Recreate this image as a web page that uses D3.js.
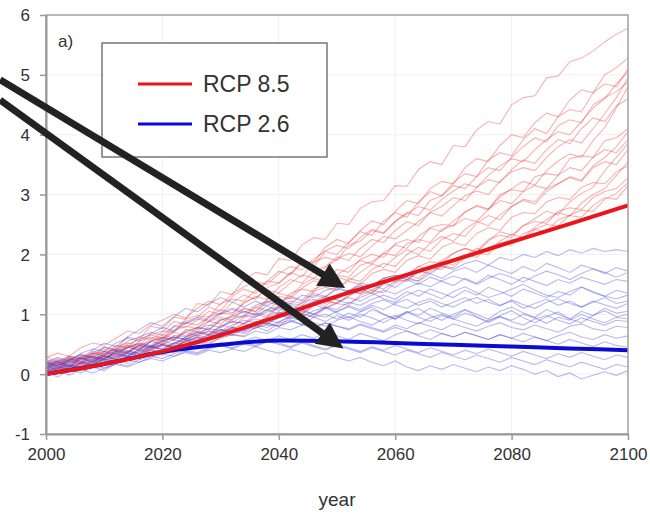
<!DOCTYPE html>
<html lang="en">
<head>
<meta charset="UTF-8">
<title>RCP 8.5 vs RCP 2.6</title>
<script src="https://d3js.org/d3.v7.min.js"></script>
<style>
    body { margin: 0; padding: 0; background: #fff; font-family: Arial, "Liberation Sans", sans-serif; }
    .tick text { font-size: 17px; fill: #333; }
</style>
</head>
<body>
<svg id="chart" width="650" height="516"></svg>
<script>
// thick lines, one value per decade
const meanYears = [2000, 2010, 2020, 2030, 2040, 2050, 2060, 2070, 2080, 2090, 2100];
const rcp85Mean = [0, 0.17, 0.38, 0.65, 0.97, 1.30, 1.60, 1.90, 2.21, 2.51, 2.82];
const rcp26Mean = [0, 0.17, 0.37, 0.49, 0.56, 0.55, 0.52, 0.49, 0.46, 0.43, 0.40];

// thin ensemble lines, one value every 2 years from 2000 to 2100
const memberYears = d3.range(2000, 2101, 2);
const rcp85Members = [
    [.15,.22,.12,.31,.27,.45,.41,.62,.58,.80,.76,.95,.92,1.18,1.15,1.38,1.33,1.58,1.70,1.66,1.93,1.90,2.16,2.28,2.25,2.52,2.50,2.77,2.88,2.90,3.15,3.14,3.42,3.55,3.50,3.82,3.80,4.08,4.22,4.18,4.50,4.62,4.65,4.95,4.98,5.22,5.28,5.40,5.55,5.68,5.78],
    [.12,.18,.10,.28,.35,.30,.48,.44,.62,.58,.70,.88,.84,.95,1.12,1.05,1.30,1.42,1.35,1.55,1.72,1.66,1.90,1.86,2.12,2.25,2.18,2.40,2.56,2.50,2.72,2.90,2.85,3.10,3.22,3.18,3.45,3.60,3.55,3.82,4.00,3.95,4.20,4.36,4.30,4.58,4.75,4.70,5.00,5.12,5.28],
    [.20,.14,.25,.22,.38,.33,.45,.52,.48,.66,.72,.70,.92,.98,.95,1.18,1.25,1.22,1.40,1.56,1.52,1.68,1.85,1.80,2.05,2.00,2.20,2.38,2.32,2.55,2.70,2.62,2.88,3.05,2.98,3.20,3.35,3.30,3.58,3.70,3.65,3.92,4.10,4.02,4.30,4.42,4.38,4.70,4.85,4.80,5.10],
    [.08,.16,.12,.26,.22,.38,.40,.35,.55,.62,.58,.80,.78,.90,1.05,1.00,1.20,1.32,1.25,1.45,1.52,1.70,1.62,1.88,1.95,1.90,2.15,2.22,2.40,2.35,2.55,2.70,2.65,2.90,2.98,3.15,3.10,3.30,3.45,3.40,3.62,3.80,3.95,3.88,4.15,4.25,4.20,4.50,4.62,4.72,4.88],
    [.25,.18,.30,.24,.35,.30,.42,.48,.44,.60,.55,.72,.80,.76,.95,1.02,1.00,1.18,1.30,1.25,1.45,1.58,1.52,1.72,1.80,1.96,1.90,2.10,2.25,2.20,2.40,2.55,2.48,2.70,2.80,2.95,2.90,3.12,3.25,3.20,3.42,3.58,3.52,3.75,3.92,3.85,4.10,4.28,4.22,4.48,4.60],
    [.10,.22,.15,.28,.20,.35,.32,.45,.40,.55,.62,.58,.75,.70,.88,.95,.90,1.10,1.05,1.25,1.35,1.30,1.50,1.60,1.55,1.75,1.70,1.92,2.00,1.95,2.18,2.25,2.20,2.45,2.50,2.48,2.72,2.80,2.75,3.00,3.08,3.05,3.30,3.35,3.32,3.60,3.65,3.62,3.90,3.95,4.10],
    [.30,.20,.28,.18,.32,.38,.30,.45,.52,.48,.62,.58,.70,.78,.75,.90,.98,.95,1.12,1.20,1.15,1.35,1.42,1.38,1.60,1.65,1.62,1.82,1.88,2.02,1.98,2.18,2.25,2.20,2.42,2.48,2.60,2.55,2.75,2.90,2.85,3.05,3.15,3.10,3.32,3.45,3.40,3.62,3.75,3.70,3.92],
    [.05,.12,.08,.20,.15,.28,.35,.30,.42,.38,.52,.48,.62,.70,.65,.82,.78,.95,1.02,.98,1.15,1.22,1.18,1.38,1.45,1.40,1.60,1.55,1.75,1.85,1.80,2.00,2.12,2.05,2.25,2.35,2.30,2.52,2.65,2.58,2.80,2.92,2.88,3.10,3.18,3.28,3.22,3.45,3.55,3.50,3.75],
    [.18,.26,.20,.32,.28,.25,.40,.36,.48,.44,.55,.62,.58,.72,.68,.80,.88,.85,1.00,.95,1.12,1.18,1.15,1.32,1.28,1.45,1.55,1.50,1.68,1.75,1.70,1.90,1.98,1.92,2.12,2.20,2.15,2.35,2.45,2.40,2.62,2.70,2.68,2.88,2.95,2.92,3.12,3.20,3.18,3.38,3.48],
    [.12,.08,.22,.15,.25,.32,.28,.38,.35,.45,.50,.46,.58,.65,.60,.75,.72,.85,.92,.88,1.02,1.08,1.05,1.20,1.28,1.25,1.40,1.48,1.45,1.60,1.65,1.62,1.80,1.88,1.85,2.02,2.10,2.05,2.25,2.32,2.28,2.48,2.55,2.52,2.72,2.78,2.75,2.95,3.05,3.10,3.28],
    [.22,.15,.28,.22,.18,.30,.26,.38,.34,.42,.48,.44,.55,.60,.56,.70,.78,.74,.88,.84,.98,1.05,1.00,1.15,1.22,1.18,1.32,1.38,1.35,1.52,1.58,1.55,1.72,1.78,1.75,1.92,2.00,1.95,2.12,2.20,2.15,2.35,2.42,2.38,2.58,2.65,2.62,2.82,2.95,2.92,3.15],
    [.02,.10,.06,.15,.12,.22,.18,.28,.25,.35,.40,.36,.48,.52,.50,.62,.66,.64,.78,.82,.80,.95,1.00,.96,1.10,1.18,1.15,1.32,1.40,1.36,1.52,1.58,1.56,1.72,1.80,1.78,1.95,2.02,2.00,2.18,2.25,2.24,2.42,2.50,2.48,2.66,2.74,2.72,2.92,3.02,3.20],
    [.10,.18,.26,.20,.33,.42,.38,.50,.58,.66,.60,.74,.86,.82,.96,1.08,1.02,1.20,1.28,1.40,1.36,1.52,1.66,1.60,1.78,1.92,2.02,1.96,2.14,2.30,2.26,2.40,2.55,2.70,2.64,2.82,2.98,3.06,3.00,3.22,3.38,3.45,3.40,3.62,3.80,3.92,3.86,4.10,4.35,4.62,4.95],
    [.18,.12,.24,.34,.28,.22,.36,.48,.42,.54,.66,.60,.70,.64,.80,.92,.86,.98,1.12,1.06,1.22,1.30,1.24,1.42,1.50,1.62,1.56,1.70,1.84,1.78,1.95,2.08,2.00,2.18,2.30,2.22,2.42,2.55,2.48,2.66,2.80,2.90,2.84,3.05,3.18,3.30,3.24,3.48,3.62,3.80,4.05],
    [.00,.08,.15,.10,.20,.30,.24,.18,.30,.42,.50,.44,.56,.52,.64,.74,.70,.80,.76,.90,1.02,.96,1.10,1.20,1.14,1.28,1.40,1.34,1.48,1.60,1.54,1.66,1.80,1.74,1.90,2.02,2.10,2.04,2.22,2.38,2.32,2.48,2.60,2.72,2.66,2.88,3.02,3.12,3.40,3.62,3.85],
    [.28,.35,.30,.44,.52,.48,.60,.72,.68,.82,.90,1.00,.94,1.10,1.22,1.16,1.34,1.46,1.55,1.50,1.68,1.80,1.74,1.92,2.06,2.15,2.10,2.28,2.42,2.36,2.55,2.68,2.80,2.74,2.92,3.06,3.18,3.12,3.32,3.48,3.60,3.55,3.75,3.92,4.05,4.00,4.22,4.45,4.60,4.85,5.05],
    [.14,.06,.18,.26,.20,.30,.24,.36,.46,.40,.50,.58,.52,.62,.72,.66,.76,.84,.80,.92,1.00,1.08,1.02,1.14,1.24,1.18,1.30,1.42,1.36,1.50,1.58,1.66,1.60,1.76,1.88,1.82,1.98,2.10,2.04,2.22,2.34,2.28,2.46,2.58,2.70,2.64,2.86,3.00,3.10,3.32,3.55],
    [.05,.14,.22,.16,.28,.24,.36,.44,.52,.46,.60,.70,.64,.78,.88,.84,.98,1.10,1.04,1.20,1.30,1.26,1.44,1.56,1.50,1.66,1.78,1.90,1.84,2.02,2.16,2.10,2.30,2.44,2.38,2.56,2.70,2.82,2.76,2.96,3.10,3.22,3.16,3.40,3.56,3.68,3.62,3.90,4.12,4.45,4.80]
];
const rcp26Members = [
    [.10,.18,.12,.25,.30,.26,.38,.45,.40,.55,.60,.56,.72,.78,.74,.90,.95,1.05,1.00,1.15,1.22,1.18,1.32,1.28,1.40,1.45,1.38,1.52,1.48,1.60,1.65,1.58,1.72,1.68,1.80,1.75,1.85,1.90,1.82,1.95,1.90,2.00,1.95,2.05,1.98,2.08,2.02,2.10,2.05,2.08,2.05],
    [.15,.08,.22,.18,.30,.25,.38,.35,.48,.55,.50,.65,.62,.75,.82,.78,.92,.98,.95,1.08,1.12,1.05,1.20,1.25,1.18,1.32,1.40,1.35,1.48,1.42,1.55,1.62,1.55,1.68,1.60,1.72,1.78,1.70,1.82,1.75,1.68,1.80,1.72,1.85,1.78,1.70,1.82,1.76,1.68,1.78,1.72],
    [.20,.28,.22,.35,.42,.38,.52,.60,.55,.68,.78,.72,.85,.92,.88,1.00,1.08,1.02,1.15,1.22,1.18,1.28,1.22,1.35,1.30,1.42,1.38,1.48,1.40,1.52,1.45,1.58,1.50,1.62,1.55,1.48,1.60,1.52,1.65,1.58,1.50,1.62,1.55,1.48,1.58,1.52,1.62,1.56,1.50,1.58,1.55],
    [.05,.12,.08,.18,.15,.25,.22,.32,.40,.35,.48,.45,.55,.62,.58,.70,.78,.72,.85,.90,.86,.98,1.05,1.00,1.12,1.08,1.20,1.15,1.25,1.32,1.25,1.38,1.30,1.42,1.35,1.28,1.40,1.32,1.45,1.38,1.30,1.42,1.35,1.28,1.38,1.32,1.45,1.38,1.30,1.40,1.35],
    [.12,.20,.15,.10,.22,.30,.25,.35,.32,.42,.50,.45,.55,.62,.58,.68,.75,.70,.82,.78,.88,.95,.90,1.00,.95,1.05,1.12,1.05,1.15,1.08,1.18,1.25,1.15,1.22,1.12,1.20,1.28,1.18,1.25,1.15,1.22,1.10,1.18,1.25,1.15,1.22,1.12,1.20,1.28,1.18,1.22],
    [.18,.10,.22,.28,.20,.32,.38,.30,.42,.48,.40,.52,.58,.50,.62,.70,.65,.75,.80,.72,.85,.90,.82,.95,1.00,.92,1.02,.95,1.08,1.00,.92,1.05,.98,1.10,1.02,.95,1.08,1.00,.92,1.05,1.12,1.02,.95,1.08,1.00,.92,1.05,.98,1.10,1.02,1.05],
    [.08,.15,.25,.20,.35,.45,.40,.55,.62,.70,.65,.80,.88,.95,.90,1.02,1.10,1.05,.98,1.08,1.00,.92,1.02,.95,.88,.98,.90,1.00,.94,.86,.96,1.04,.95,.88,.98,.92,1.02,.95,.86,.96,.90,1.00,.94,.85,.95,.90,1.00,.92,.86,.95,.92],
    [.10,.05,.15,.12,.22,.18,.28,.35,.30,.40,.38,.48,.45,.55,.52,.60,.66,.62,.72,.68,.78,.74,.82,.78,.85,.80,.76,.84,.78,.72,.82,.76,.86,.80,.74,.84,.78,.72,.80,.86,.78,.74,.82,.76,.70,.80,.84,.76,.72,.80,.78],
    [.15,.22,.12,.08,.18,.25,.20,.30,.26,.36,.32,.42,.38,.48,.45,.52,.48,.56,.62,.55,.64,.58,.66,.60,.70,.64,.58,.68,.62,.56,.66,.72,.64,.58,.68,.62,.70,.64,.58,.66,.60,.68,.62,.56,.64,.70,.62,.58,.66,.60,.64],
    [.05,-.05,.08,.02,.12,.06,.18,.14,.24,.30,.26,.34,.40,.36,.44,.48,.42,.50,.46,.54,.50,.44,.52,.46,.40,.48,.42,.36,.44,.38,.32,.40,.34,.28,.36,.30,.24,.32,.26,.20,.28,.22,.16,.24,.18,.12,.20,.14,.08,.16,.12],
    [.10,.04,.14,.08,.02,.10,.16,.12,.20,.26,.22,.30,.36,.32,.40,.36,.42,.38,.46,.40,.35,.42,.36,.30,.36,.28,.22,.28,.20,.14,.22,.12,.06,.14,.08,.16,.10,.04,.12,.06,.14,.08,.00,.06,-.04,.02,-.08,-.02,.04,-.02,.06],
    [.20,.12,.25,.32,.28,.38,.34,.44,.50,.46,.56,.62,.58,.66,.72,.68,.78,.74,.82,.86,.80,.88,.84,.78,.86,.80,.74,.82,.76,.70,.78,.72,.66,.74,.68,.62,.70,.64,.58,.66,.60,.54,.62,.56,.50,.58,.52,.46,.54,.48,.45],
    [.02,.10,.18,.12,.24,.20,.30,.40,.34,.46,.56,.50,.62,.70,.66,.78,.88,.84,.96,1.04,1.10,1.02,1.14,1.22,1.30,1.24,1.18,1.28,1.36,1.26,1.20,1.32,1.40,1.34,1.26,1.38,1.46,1.36,1.28,1.34,1.42,1.50,1.40,1.32,1.28,1.38,1.46,1.36,1.30,1.26,1.32],
    [.12,.22,.30,.26,.40,.52,.46,.62,.74,.86,.80,.96,1.10,1.04,1.18,1.28,1.20,1.12,1.22,1.14,1.06,1.16,1.08,1.00,1.10,1.02,.94,1.04,1.12,1.00,.92,1.02,1.10,.98,.90,1.00,1.08,.96,.88,.98,1.06,.94,.86,.96,1.04,.92,.86,.98,1.06,.96,1.00],
    [.08,.02,.12,.20,.16,.26,.34,.30,.38,.46,.42,.52,.48,.58,.66,.62,.72,.68,.78,.84,.80,.88,.94,.86,.80,.90,.96,.88,.82,.92,.98,.90,.84,.94,1.00,.92,.86,.80,.90,.96,.88,.82,.92,.98,.90,.84,.94,.88,.82,.90,.88],
    [.16,.24,.18,.28,.24,.34,.42,.38,.48,.44,.54,.62,.58,.68,.76,.72,.82,.90,.86,.96,1.04,.98,1.08,1.16,1.10,1.20,1.28,1.22,1.32,1.40,1.34,1.44,1.52,1.46,1.56,1.64,1.58,1.50,1.60,1.68,1.62,1.54,1.64,1.72,1.66,1.58,1.68,1.76,1.70,1.62,1.70],
    [.00,.06,-.02,.08,.14,.10,.18,.24,.20,.28,.34,.30,.38,.34,.42,.48,.44,.52,.48,.56,.52,.46,.54,.48,.42,.50,.44,.38,.46,.40,.48,.42,.36,.44,.38,.32,.40,.34,.42,.36,.30,.38,.32,.26,.34,.28,.36,.30,.24,.32,.28],
    [.22,.14,.08,.18,.26,.22,.32,.28,.38,.46,.42,.52,.60,.56,.66,.74,.70,.80,.88,.84,.94,1.00,.96,1.06,1.12,1.04,1.14,1.08,1.18,1.24,1.16,1.10,1.20,1.26,1.18,1.12,1.22,1.28,1.20,1.14,1.24,1.16,1.10,1.20,1.26,1.18,1.12,1.22,1.16,1.10,1.18]
];

const xTicks = [2000, 2020, 2040, 2060, 2080, 2100];
const yTicks = [-1, 0, 1, 2, 3, 4, 5, 6];
const legendLabels = ["RCP 8.5", "RCP 2.6"];

// arrow annotations in data units [fromYear, fromValue, toYear, toValue]
const arrows = [
    [1992.1, 4.92, 2051.4, 1.44],
    [1992.1, 4.58, 2051.1, 0.43]
];

const svg = d3.select("#chart");
const margin = { top: 15, right: 22, bottom: 82, left: 46 };
const W = 650, H = 516;

const x = d3.scaleLinear().domain([2000, 2100]).range([margin.left, W - margin.right]);
const y = d3.scaleLinear().domain([-1, 6]).range([H - margin.bottom, margin.top]);

svg.append("defs").append("clipPath").attr("id", "plot-clip")
    .append("rect")
    .attr("x", x(2000)).attr("y", y(6))
    .attr("width", x(2100) - x(2000)).attr("height", y(-1) - y(6));

// faint grid
const grid = svg.append("g");
grid.selectAll(".vg").data(xTicks.slice(1, -1)).join("line")
    .attr("x1", d => x(d)).attr("x2", d => x(d))
    .attr("y1", y(6)).attr("y2", y(-1))
    .attr("stroke", "#f0f0f0").attr("stroke-width", 1);
grid.selectAll(".hg").data(yTicks.slice(1, -1)).join("line")
    .attr("x1", x(2000)).attr("x2", x(2100))
    .attr("y1", d => y(d)).attr("y2", d => y(d))
    .attr("stroke", "#f0f0f0").attr("stroke-width", 1);

const plot = svg.append("g").attr("clip-path", "url(#plot-clip)");

const memberLine = d3.line()
    .x((d, i) => x(memberYears[i]))
    .y(d => y(d));

plot.selectAll(".red-thin").data(rcp85Members).join("path")
    .attr("fill", "none")
    .attr("stroke", "rgba(238,50,50,0.38)")
    .attr("stroke-width", 1.1)
    .attr("d", memberLine);

plot.selectAll(".blue-thin").data(rcp26Members).join("path")
    .attr("fill", "none")
    .attr("stroke", "rgba(60,60,215,0.36)")
    .attr("stroke-width", 1.1)
    .attr("d", memberLine);

const meanLine = d3.line()
    .x((d, i) => x(meanYears[i]))
    .y(d => y(d))
    .curve(d3.curveMonotoneX);

plot.append("path").datum(rcp26Mean)
    .attr("fill", "none").attr("stroke", "#0a0ad2").attr("stroke-width", 4)
    .attr("d", meanLine);

plot.append("path").datum(rcp85Mean)
    .attr("fill", "none").attr("stroke", "#e8161a").attr("stroke-width", 4)
    .attr("d", meanLine);

// frame
svg.append("rect")
    .attr("x", x(2000)).attr("y", y(6))
    .attr("width", x(2100) - x(2000)).attr("height", y(-1) - y(6))
    .attr("fill", "none").attr("stroke", "#a0a0a0").attr("stroke-width", 1.5);

// axes
const xAxis = svg.append("g")
    .attr("transform", `translate(0,${y(-1)})`)
    .call(d3.axisBottom(x).tickValues(xTicks).tickFormat(d => String(d)).tickSize(6).tickSizeOuter(0).tickPadding(8));
const yAxis = svg.append("g")
    .attr("transform", `translate(${x(2000)},0)`)
    .call(d3.axisLeft(y).tickValues(yTicks).tickFormat(d => String(d)).tickSize(6).tickSizeOuter(0).tickPadding(10));
[xAxis, yAxis].forEach(g => {
    g.select(".domain").attr("stroke", "#999").attr("stroke-width", 2);
    g.selectAll(".tick line").attr("stroke", "#999").attr("stroke-width", 1.5);
    g.selectAll(".tick text").attr("font-family", "Arial, 'Liberation Sans', sans-serif");
});
yAxis.selectAll(".tick text").attr("dy", "0.35em");

svg.append("text")
    .attr("x", (x(2000) + x(2100)) / 2)
    .attr("y", 506)
    .attr("text-anchor", "middle")
    .attr("font-size", 19)
    .attr("fill", "#333")
    .text("year");

svg.append("text")
    .attr("x", 58).attr("y", 47)
    .attr("font-size", 17)
    .attr("fill", "#333")
    .text("a)");

// legend
const legend = svg.append("g");
legend.append("rect")
    .attr("x", 102).attr("y", 43).attr("width", 225).attr("height", 114)
    .attr("fill", "#fff").attr("stroke", "#777").attr("stroke-width", 1.5);
const legendColors = ["#e8161a", "#0a0ad2"];
legendLabels.forEach((label, i) => {
    const ly = 84 + i * 40;
    legend.append("line")
        .attr("x1", 138).attr("x2", 192).attr("y1", ly).attr("y2", ly)
        .attr("stroke", legendColors[i]).attr("stroke-width", 3);
    legend.append("text")
        .attr("x", 203).attr("y", ly + 8)
        .attr("font-size", 23)
        .attr("fill", "#333")
        .text(label);
});

// arrows
const arrowGroup = svg.append("g");
arrows.forEach(a => {
    const x0 = x(a[0]), y0 = y(a[1]), x1 = x(a[2]), y1 = y(a[3]);
    const ang = Math.atan2(y1 - y0, x1 - x0);
    const headLen = 26, headHalf = 13;
    const bx = x1 - headLen * Math.cos(ang), by = y1 - headLen * Math.sin(ang);
    arrowGroup.append("line")
        .attr("x1", x0).attr("y1", y0).attr("x2", bx + 2 * Math.cos(ang)).attr("y2", by + 2 * Math.sin(ang))
        .attr("stroke", "#222").attr("stroke-width", 7);
    const px = -Math.sin(ang), py = Math.cos(ang);
    arrowGroup.append("path")
        .attr("d", `M${x1},${y1}L${bx + px * headHalf},${by + py * headHalf}L${bx - px * headHalf},${by - py * headHalf}Z`)
        .attr("fill", "#222");
});
</script>
</body>
</html>
